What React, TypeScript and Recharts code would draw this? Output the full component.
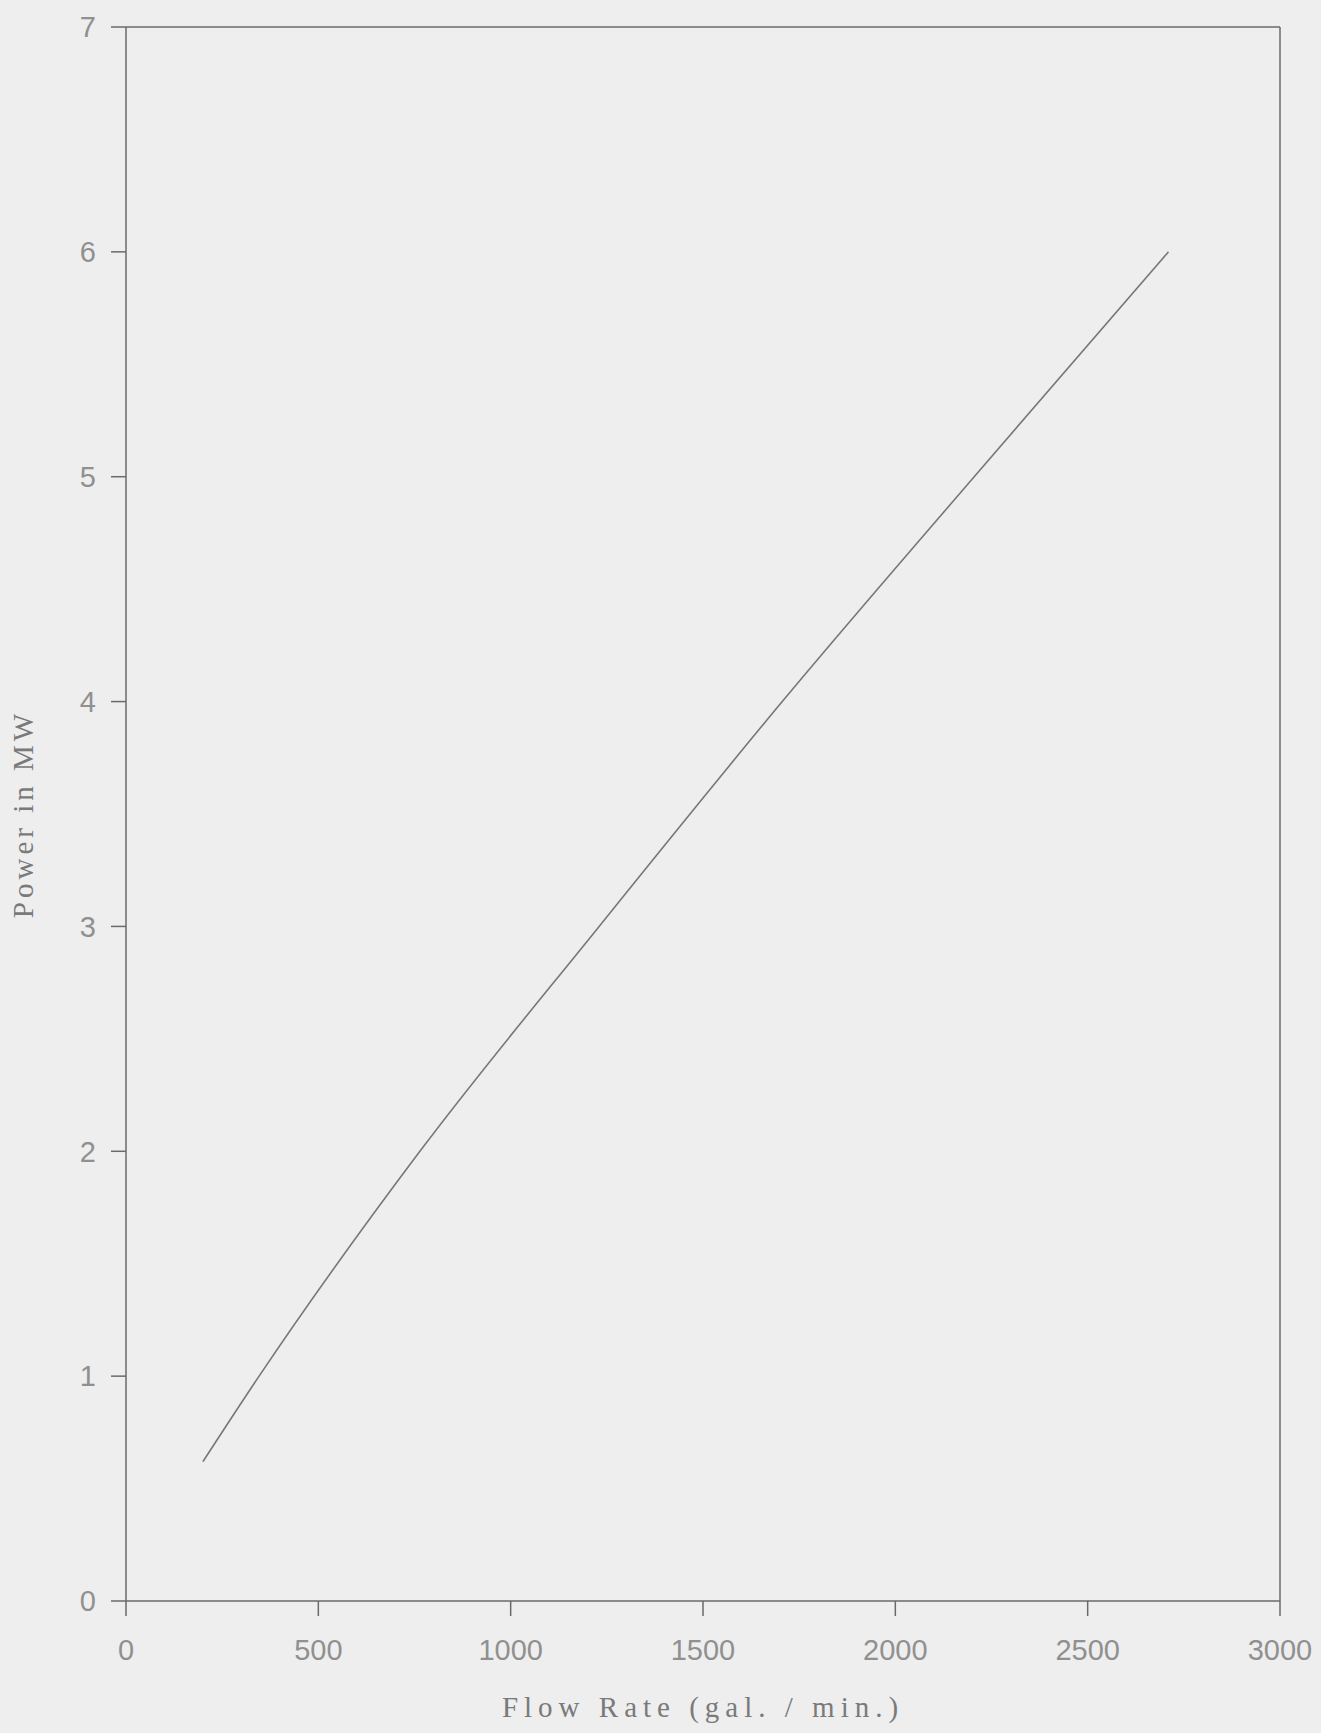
import { LineChart, Line, XAxis, YAxis, ReferenceLine } from 'recharts'

// flow rate (gal/min) vs power (MW)
const flowRate = [200, 346, 764, 1230, 1706, 2205, 2710]
const powerMW = [0.62, 1, 2, 3, 4, 5, 6]

const xTicks = [0, 500, 1000, 1500, 2000, 2500, 3000]
const yTicks = [0, 1, 2, 3, 4, 5, 6, 7]

const data = flowRate.map((f, i) => ({ flow: f, power: powerMW[i] }))

const AXIS = '#6a6a6a'
const TICK = { fontSize: 29, fill: '#909090', fontFamily: 'Liberation Sans, sans-serif' }
const LABEL_FONT = { fontSize: 29, fill: '#7a7a7a', fontFamily: 'Liberation Serif, serif' }

export default function App() {
  return (
    <div style={{ position: 'absolute', left: 0, top: 0, width: 1321, height: 1733, background: '#eeeeee' }}>
      <LineChart width={1321} height={1733} data={data} margin={{ top: 27, right: 41, left: 0, bottom: 0 }}>
        <XAxis
          dataKey="flow"
          type="number"
          domain={[0, 3000]}
          ticks={xTicks}
          interval={0}
          height={132}
          tickSize={15}
          tickMargin={23}
          stroke={AXIS}
          strokeWidth={1.5}
          tick={TICK}
          label={{
            value: 'Flow Rate (gal. / min.)',
            position: 'insideBottom',
            offset: 16,
            style: { ...LABEL_FONT, letterSpacing: 6 },
          }}
        />
        <YAxis
          dataKey="power"
          type="number"
          domain={[0, 7]}
          ticks={yTicks}
          interval={0}
          width={126}
          tickSize={15}
          tickMargin={15}
          stroke={AXIS}
          strokeWidth={1.5}
          tick={TICK}
          label={{
            value: 'Power in MW',
            angle: -90,
            position: 'insideLeft',
            offset: 23,
            style: { ...LABEL_FONT, letterSpacing: 4, textAnchor: 'middle' },
          }}
        />
        <ReferenceLine y={7} stroke={AXIS} strokeWidth={1.5} />
        <ReferenceLine x={3000} stroke={AXIS} strokeWidth={1.5} />
        <Line
          type="monotone"
          dataKey="power"
          stroke="#777777"
          strokeWidth={1.6}
          dot={false}
          isAnimationActive={false}
        />
      </LineChart>
    </div>
  )
}
